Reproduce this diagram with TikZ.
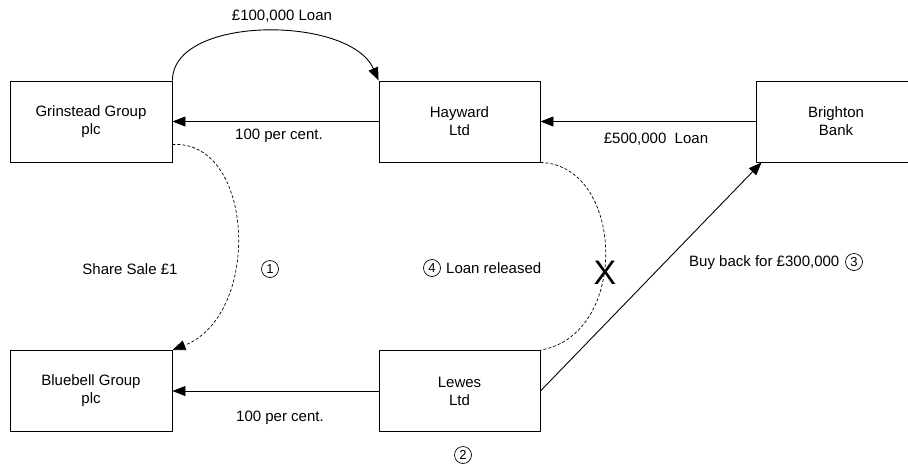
\documentclass[tikz,border=0pt]{standalone}
\usepackage{fontspec}
\setmainfont{Liberation Sans}
\usetikzlibrary{arrows.meta}
\begin{document}
\begin{tikzpicture}[x=1pt,y=-1pt,
  box/.style={draw, line width=0.9pt, minimum height=81pt, inner sep=0pt, align=center, font=\fontsize{15}{18}\selectfont},
  lbl/.style={inner sep=0pt, font=\fontsize{15}{18}\selectfont},
  arr/.style={line width=0.9pt, -{Triangle[length=13pt,width=10pt]}},
  darr/.style={line width=0.7pt, dash pattern=on 3pt off 2pt},
  num/.style={circle, draw, line width=0.7pt, inner sep=0pt, minimum size=17pt, font=\fontsize{13}{13}\selectfont}]
\clip (0,0) rectangle (908,472);
\fill[white] (0,0) rectangle (908,472);
% boxes
\node[box, minimum width=162pt] (grin) at (91,121.5) {Grinstead Group\\plc};
\node[box, minimum width=161pt] (hay) at (459.5,121.5) {Hayward\\Ltd};
\node[box, minimum width=160pt] (brig) at (836,121.5) {Brighton\\Bank};
\node[box, minimum width=162pt] (blue) at (91,391) {Bluebell Group\\plc};
\node[box, minimum width=161pt] (lewes) at (459.5,391) {Lewes\\Ltd};
% connectors
\draw[arr] (grin.north east) .. controls (172,15) and (350,15) .. (hay.north west);
\draw[arr] (hay.west) -- (grin.east);
\draw[arr] (brig.west) -- (hay.east);
\draw[arr] (lewes.west) -- (blue.east);
\draw[arr] (lewes.east) -- ([xshift=6pt]brig.south west);
\draw[darr, -{Triangle[length=13pt,width=10pt]}] ([yshift=18pt]grin.south east) .. controls (255,140) and (262,315) .. (blue.north east);
\draw[darr] (hay.south east) .. controls (625,165) and (630,335) .. (lewes.north east);
% labels
\node[lbl] (loanlbl) at (282,16) {£100,000 Loan};
\node[lbl] (pc1) at (279,136) {100 per cent.};
\node[lbl] (pc2) at (280,418) {100 per cent.};
\node[lbl] (l500) at (656,139) {£500,000\ \ Loan};
\node[lbl] (share) at (130,269) {Share Sale £1};
\node[num] (c1) at (270,269) {1};
\node[num] (c4) at (432,268) {4};
\node[lbl, anchor=west] (rel) at (446,268) {Loan released};
\node[inner sep=0pt, font=\fontsize{34}{34}\selectfont] (x) at (605,273) {X};
\node[lbl, anchor=west] (buy) at (689,263) {Buy back for £300,000};
\node[num] (c3) at (854,262) {3};
\node[num] (c2) at (463,455) {2};
\end{tikzpicture}
\end{document}
